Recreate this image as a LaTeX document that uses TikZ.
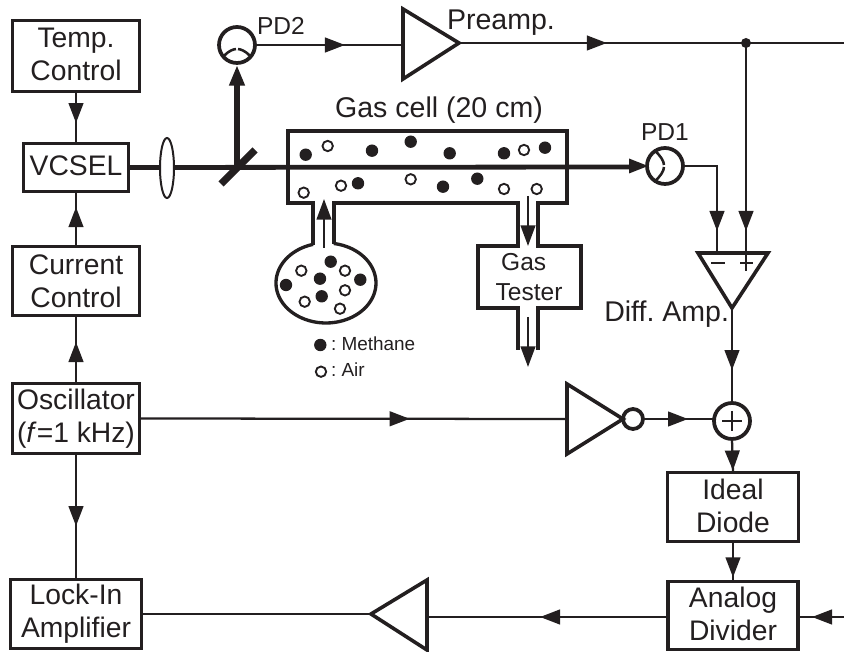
\documentclass[tikz,border=0pt]{standalone}
\usepackage{fontspec}
\setmainfont{Liberation Sans}
\usetikzlibrary{arrows.meta,decorations.markings,shapes.geometric}
\definecolor{ink}{HTML}{231F20}
\def\px{0.75pt}
\newcommand\liftup{\rule[-2.2pt]{0pt}{0pt}}
\frenchspacing
\tikzset{
  mid/.style={postaction={decorate,decoration={markings,mark=at position #1 with {\arrow{Triangle[length=15pt,width=11pt]}}}}},
  wire/.style={draw=ink,line width=1.7pt},
  beam/.style={draw=ink,line width=3.6pt},
  blockbox/.style={draw=ink,line width=2.8pt,inner sep=0pt,outer sep=0pt,align=center,text=ink,fill=white,
     font=\fontsize{21.2}{24.5}\selectfont},
  solid shape/.style={draw=ink,line width=2.7pt,line join=miter},
  tube/.style={draw=ink,line width=2.5pt,line join=miter},
  lab/.style={text=ink,inner sep=0pt,outer sep=0pt,font=\fontsize{21.4}{25}\selectfont},
  smalllab/.style={text=ink,inner sep=0pt,outer sep=0pt,font=\fontsize{18.4}{22}\selectfont},
  leg/.style={text=ink,inner sep=0pt,outer sep=0pt,font=\fontsize{14.2}{17}\selectfont},
  ring/.style={circle,draw=ink,line width=2.8pt,inner sep=0pt,outer sep=0pt,fill=white},
  bigtip/.style={-{Triangle[length=15.5pt,width=11pt]}},
}
\begin{document}
\begin{tikzpicture}[x=0.75pt,y=-0.75pt]
\useasboundingbox (0,0) rectangle (844,652);

% --- gas cell, flask and tester outline
\draw[tube] plot[domain=105:441,samples=90] ({326+50*cos(\x)},{283-40*sin(\x)});
\draw[tube] (313,245) -- (313,203) -- (288,203) -- (288,131) -- (567,131) -- (567,203) -- (538,203) -- (538,246) -- (581,246) -- (581,308) -- (538,308) -- (538,350);
\draw[tube] (334,244) -- (334,203) -- (518,203) -- (518,246) -- (478,246) -- (478,308) -- (518,308) -- (518,350);

% --- molecules
\foreach \a/\b in {305.7/154.7,372/150.7,410.7/141.7,449.7/153.3,504/153.3,545/147.7,358/183.3,443/186.7,477.3/178.7,
    330.7/261.7,320/278.7,286/285,360.3/279.7,321.7/296.3,320.3/345}
  \fill[ink] (\a,\b) circle[radius=6.2*\px];
\foreach \a/\b in {327.7/146,524/150,303.7/192.7,341/185.7,410.7/179.3,504/189,536.7/189,
    301.3/270.7,345/270.7,345/290.3,304.7/301.7,340/308.7,321/371.7}
  \draw[ink,line width=1.4pt] (\a,\b) circle[radius=5.2*\px];

% --- blocks
\node[blockbox,minimum width=127*\px,minimum height=71*\px] (temp) at (76,56) {Temp.\\Control\liftup};
\node[blockbox,minimum width=105*\px,minimum height=48*\px] (vcsel) at (76,167.5) {VCSEL\liftup};
\node[blockbox,minimum width=127*\px,minimum height=69*\px] (current) at (76,281) {Current\\Control};
\node[blockbox,minimum width=127*\px,minimum height=70*\px] (osc) at (76,418.5) {Oscillator\\(\textit{f}=1 kHz)};
\node[blockbox,minimum width=131*\px,minimum height=69*\px] (lock) at (76,614) {Lock-In\\Amplifier};
\node[blockbox,minimum width=131*\px,minimum height=69*\px] (ideal) at (733,507) {Ideal\\Diode\liftup};
\node[blockbox,minimum width=130*\px,minimum height=68*\px] (analog) at (733,615.5) {Analog\\Divider\liftup};

% --- photodiodes, lens, summer
\node[ring,minimum size=36*\px] (pd2) at (237,45) {};
\node[ring,minimum size=36*\px] (pd1) at (665,166) {};
\node[ring,minimum size=36*\px] (sum) at (732,421) {};
\node[ring,minimum size=20*\px] (bubble) at (633,419) {};

% --- named points
\coordinate (split) at (237,167);
\coordinate (junction) at (746,43);
\coordinate (outtop) at (844,43);
\coordinate (inbottom) at (844,617);
\coordinate (preampin) at (403,45);
\coordinate (preampout) at (459,43);
\coordinate (diffminus) at (717,253);
\coordinate (diffplus) at (746,253);
\coordinate (diffout) at (732,308);
\coordinate (invin) at (567,419);
\coordinate (ampin) at (427,617);
\coordinate (ampout) at (371,614);
\coordinate (pd1corner) at (717,166);
\coordinate (analogin) at (800,617);
\coordinate (analogout) at (667,617);

% --- optical beams
\draw[beam] (vcsel.east) -- (629,167);
\fill[ink] (629,158.5) -- (648,166) -- (629,173.5) -- cycle;
\draw[line width=4pt,draw=ink,bigtip] (split) -- (237,65);
\draw[draw=ink,line width=5.5pt] (221,184) -- (255,150);
\node[ellipse,draw=ink,line width=1.5pt,fill=white,minimum width=14*\px,minimum height=60*\px,inner sep=0pt] (lens) at (167,168) {};

% --- triangles
\draw[solid shape] (preampin |- 0,9) -- (preampout) -- (preampin |- 0,79) -- cycle;
\draw[solid shape] (698,253) -- (768,253) -- (diffout) -- cycle;
\draw[solid shape] (invin |- 0,384) -- (623,419) -- (invin |- 0,454) -- cycle;
\draw[solid shape] (ampin |- 0,580) -- (ampout) -- (ampin |- 0,650) -- cycle;

% --- electrical connectors
\draw[wire,mid=0.608] (pd2.east) -- (preampin);
\draw[wire,mid=0.384] (preampout) -- (outtop);
\fill[ink] (junction) circle[radius=5*\px];
\draw[wire,mid=0.818] (pd1.east) -- (pd1corner) -- (diffminus);
\draw[wire,mid=0.895] (junction) -- (diffplus);
\draw[wire,mid=0.653] (diffout) -- (sum.north);
\draw[wire,mid=0.632] (osc.east) -- (invin);
\draw[wire,mid=0.634] (bubble.east) -- (sum.west |- bubble.east);
\draw[wire,mid=0.94] (sum.south) -- (ideal.north);
\draw[wire,mid=0.895] (ideal.south) -- (analog.north);
\draw[wire,mid=0.727] (inbottom) -- (analogin);
\draw[wire,mid=0.529] (analogout) -- (ampin);
\draw[wire] (ampout) -- (lock.east |- ampout);
\draw[wire,mid=0.606] (temp.south) -- (vcsel.north);
\draw[wire,mid=0.716] (current.north) -- (vcsel.south);
\draw[wire,mid=0.61] (osc.north) -- (current.south);
\draw[wire,mid=0.576] (osc.south) -- (lock.north);

% --- gas flow arrows
\draw[wire,bigtip] (324,248) -- (324,199);
\draw[wire,bigtip] (528,196) -- (528,246);
\draw[wire,bigtip] (528,317) -- (528,367);

% --- inner details
\draw[ink,line width=1.9pt] (224,56) .. controls (229,50.5) and (233,49.5) .. (236,49);
\draw[ink,line width=1.9pt] (238,49) .. controls (241,49.5) and (245,50.5) .. (250,56);
\draw[ink,line width=1.9pt] (654,150) .. controls (660,155) and (664,161) .. (664,165);
\draw[ink,line width=1.9pt] (664,167) .. controls (664,171) and (660,177) .. (654,182);
\draw[ink,line width=1.1pt] (711,263) -- (725,263);
\draw[ink,line width=1.1pt] (740,263) -- (753,263);
\draw[ink,line width=1.1pt] (746,253) -- (746,271);
\draw[ink,line width=1.3pt] (722,421) -- (742,421);
\draw[ink,line width=1.3pt] (732,411) -- (732,431);

% --- labels
\node[smalllab,anchor=base west] (pd2lab) at (257,35) {PD2};
\node[smalllab,anchor=base west] (pd1lab) at (641,141) {PD1};
\node[lab,anchor=base west] (preamplab) at (447,30) {Preamp.};
\node[lab,anchor=base] (celllab) at (439,118) {Gas cell (20 cm)};
\node[lab,anchor=base east] (difflab) at (729,322) {Diff. Amp.};
\node[smalllab,align=center,anchor=center] (tester) at (529,277) {Gas\hspace*{8pt}\\Tester};
\node[leg,anchor=base west] (methane) at (331,350.7) {: Methane};
\node[leg,anchor=base west] (air) at (331,377) {: Air};
\end{tikzpicture}
\end{document}
